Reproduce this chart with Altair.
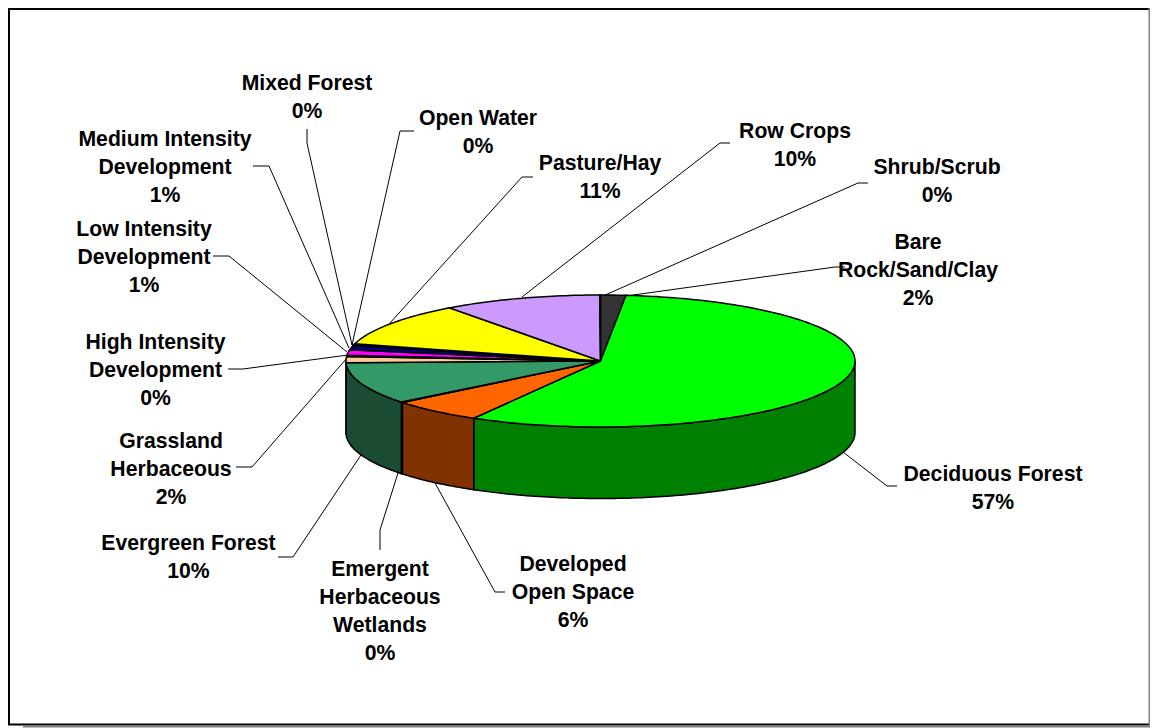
import math
import altair as alt
import pandas as pd

# ---- data (clockwise from the top of the pie) ----
categories = ["Bare Rock/Sand/Clay", "Deciduous Forest", "Developed Open Space",
              "Emergent Herbaceous Wetlands", "Evergreen Forest", "Grassland Herbaceous",
              "High Intensity Development", "Low Intensity Development",
              "Medium Intensity Development", "Mixed Forest", "Open Water",
              "Pasture/Hay", "Row Crops", "Shrub/Scrub"]
shares = [1.6, 56.7, 5.9, 0.1, 10.3, 1.5, 0.3, 1.3, 1.1, 0.2, 0.2, 10.7, 10.05, 0.05]
top_colors = ["#333333", "#00FF00", "#FF6600", "#000000", "#339966", "#FFCC99", "#000000",
              "#FF00FF", "#000080", "#000000", "#000000", "#FFFF00", "#CC99FF", "#000000"]
side_colors = ["#1A1A1A", "#008000", "#803300", "#000000", "#1A4D33", "#80664D", "#000000",
               "#800080", "#000040", "#000000", "#000000", "#808000", "#664D80", "#000000"]

label_text = ["Bare\nRock/Sand/Clay\n2%", "Deciduous Forest\n57%", "Developed\nOpen Space\n6%",
              "Emergent\nHerbaceous\nWetlands\n0%", "Evergreen Forest\n10%", "Grassland\nHerbaceous\n2%",
              "High Intensity\nDevelopment\n0%", "Low Intensity\nDevelopment\n1%",
              "Medium Intensity\nDevelopment\n1%", "Mixed Forest\n0%", "Open Water\n0%",
              "Pasture/Hay\n11%", "Row Crops\n10%", "Shrub/Scrub\n0%"]

# ---- layout (page pixels) ----
label_x = [918, 993, 573, 380, 188.5, 171, 155.5, 144, 165, 307, 478, 600, 795, 937]
label_y = [243, 474.5, 565, 570, 543.5, 442, 343, 230, 140, 84, 119, 164, 132, 168]
leaders = [
    [(626, 296), (835, 267), (845, 267)],
    [(843, 452), (887, 486), (897, 486)],
    [(435, 483), (495, 592), (505, 592)],
    [(398, 473), (380, 530), (380, 550)],
    [(361, 455), (293, 557), (278, 557)],
    [(347, 358), (252, 467), (236, 467)],
    [(348, 355), (243, 369), (228, 369)],
    [(347, 352), (229, 256), (213, 256)],
    [(349, 348), (269, 166), (253, 166)],
    [(352, 345), (307, 143), (307, 129)],
    [(352, 345), (400, 131), (414, 131)],
    [(390, 323), (522, 177), (533, 177)],
    [(522, 297), (720, 143), (730, 143)],
    [(603, 296), (858, 183), (868, 183)],
]
CX, CY, RX, RY, DEPTH = 600.5, 361, 254.5, 66, 71.5
PAGE = 8
W, H = 1142, 720
RIGHT = PAGE + W

xs = alt.Scale(domain=[PAGE, PAGE + W], range=[0, W], nice=False, zero=False)
ys = alt.Scale(domain=[PAGE + H, PAGE], range=[H, 0], nice=False, zero=False)
X = alt.X("x:Q", scale=xs, axis=None)
Y = alt.Y("y:Q", scale=ys, axis=None)


def pt(theta, drop=0.0):
    r = math.radians(theta)
    return CX + RX * math.sin(r), CY - RY * math.cos(r) + drop


def arc(a, b, drop=0.0):
    n = max(2, int(abs(b - a)) + 2)
    return [pt(a + (b - a) * i / (n - 1), drop) for i in range(n)]


def shape(points, fill, sw=1.5):
    df = pd.DataFrame({"x": [p[0] for p in points], "y": [p[1] for p in points],
                       "i": range(len(points))})
    return alt.Chart(df).mark_line(fill=fill, stroke="black", strokeWidth=sw,
                                   interpolate="linear").encode(
        x=X, y=Y, order="i:Q")


cum = 0.0
angles = []
for s in shares:
    angles.append((cum * 3.6, (cum + s) * 3.6))
    cum += s

layers = []
# frame
fr = pd.DataFrame({"x": [RIGHT, PAGE + 1, PAGE + 1, RIGHT], "y": [PAGE + 1, PAGE + 1, 724.5, 724.5],
                   "i": [0, 1, 2, 3]})
layers.append(alt.Chart(fr).mark_line(stroke="black", strokeWidth=2).encode(x=X, y=Y, order="i:Q"))
sh = pd.DataFrame({"x": [23, RIGHT - 0.5, RIGHT - 0.5], "y": [726.5, 726.5, PAGE], "i": [0, 1, 2]})
layers.append(alt.Chart(sh).mark_line(stroke="#808080", strokeWidth=2).encode(x=X, y=Y, order="i:Q"))

# leaders
rows = []
for k, pts in enumerate(leaders):
    for i, p in enumerate(pts):
        rows.append({"x": p[0], "y": p[1], "i": i, "name": categories[k]})
layers.append(alt.Chart(pd.DataFrame(rows)).mark_line(stroke="black", strokeWidth=1).encode(
    x=X, y=Y, order="i:Q", detail="name:N"))

# side walls
for (a, b), col in zip(angles, side_colors):
    lo, hi = max(a, 90), min(b, 270)
    if hi > lo:
        poly = arc(lo, hi) + arc(hi, lo, DEPTH)
        layers.append(shape(poly + poly[:1], col))

# top faces
for (a, b), col in zip(angles, top_colors):
    poly = [(CX, CY)] + arc(a, b) + [(CX, CY)]
    layers.append(shape(poly, col))

# labels
lab = pd.DataFrame({"x": label_x, "y": label_y, "t": label_text})
layers.append(alt.Chart(lab).mark_text(font="Liberation Sans", fontWeight="bold", fontSize=21.2,
                                       lineBreak="\n", lineHeight=28, align="center",
                                       baseline="middle", color="black").encode(
    x=X, y=Y, text="t:N"))

chart = alt.layer(*layers).properties(
    width=W, height=H, padding=0, background="white",
    autosize=alt.AutoSizeParams(type="none"),
).configure_view(stroke=None)

chart.save("out.html", embed_options={"renderer": "svg", "actions": False})
